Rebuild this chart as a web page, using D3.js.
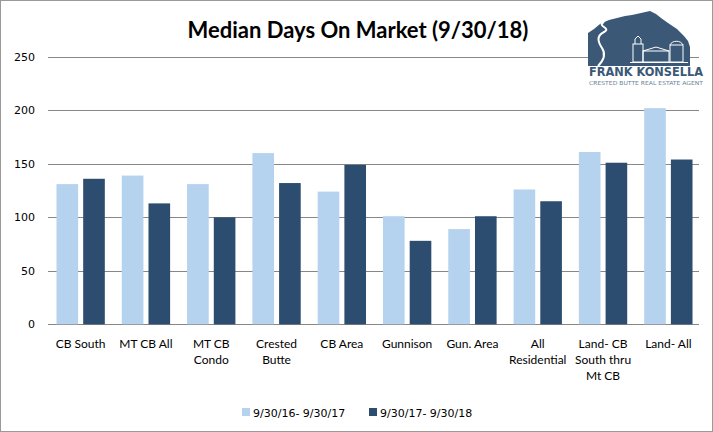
<!DOCTYPE html>
<html>
<head>
<meta charset="utf-8">
<script src="https://cdn.jsdelivr.net/npm/d3@7"></script>
<style>
  body { margin: 0; background: #fff; }
  svg { display: block; }
</style>
</head>
<body>
<div id="chart"></div>
<script>
// chart data
var categories = ["CB South", "MT CB All", "MT CB Condo", "Crested Butte", "CB Area",
                  "Gunnison", "Gun. Area", "All Residential", "Land- CB South thru Mt CB", "Land- All"]
var tickLabels = [["CB South"], ["MT CB All"], ["MT CB", "Condo"], ["Crested", "Butte"], ["CB Area"],
                  ["Gunnison"], ["Gun. Area"], ["All", "Residential"], ["Land- CB", "South thru", "Mt CB"], ["Land- All"]]
var series = ["9/30/16- 9/30/17", "9/30/17- 9/30/18"]
var prevYear = [131, 139, 131, 160, 124, 101, 89, 126, 161, 202]
var thisYear = [136, 113, 100, 132, 149, 78, 101, 115, 151, 154]
var yTicks = [0, 50, 100, 150, 200, 250]

var width = 713,
    height = 432

var svg = d3.select("#chart")
  .append("svg")
    .attr("width", width)
    .attr("height", height)

// outer frame
svg.append("rect")
  .attr("x", 0.5).attr("y", 0.5)
  .attr("width", width - 1).attr("height", height - 1)
  .attr("fill", "#fff")
  .attr("stroke", "#9a9a9a")

var color = d3.scaleOrdinal().domain(series).range(["#b5d2ee", "#2c4d70"])

var x0 = d3.scaleBand()
  .domain(categories)
  .range([48, 701])
  .paddingInner(0.26)
  .paddingOuter(0.13)

var x1 = d3.scaleBand()
  .domain(series)
  .range([0, x0.bandwidth()])
  .paddingInner(0.19)

var y = d3.scaleLinear()
  .domain([0, 250])
  .range([324.3, 56.8])

// gridlines
svg.append("g")
  .selectAll("line")
  .data(yTicks)
  .enter().append("line")
    .attr("x1", 48).attr("x2", 699)
    .attr("y1", function(d) { return Math.round(y(d)) + 0.5 })
    .attr("y2", function(d) { return Math.round(y(d)) + 0.5 })
    .attr("stroke", "#878787")
    .attr("stroke-width", 1.2)

// y axis labels
svg.append("g")
  .selectAll("text")
  .data(yTicks)
  .enter().append("text")
    .attr("x", 35)
    .attr("y", function(d) { return y(d) })
    .attr("dy", "0.35em")
    .attr("text-anchor", "end")
    .style("font-family", "DejaVu Sans, Verdana, sans-serif")
    .style("font-size", "11px")
    .attr("fill", "#000")
    .text(function(d) { return d })

// bars
var rows = categories.map(function(c, i) {
  return { cat: c, values: [
    { key: series[0], value: prevYear[i] },
    { key: series[1], value: thisYear[i] }
  ] }
})

svg.append("g")
  .selectAll("g")
  .data(rows)
  .enter().append("g")
    .attr("transform", function(d) { return "translate(" + x0(d.cat) + ",0)" })
  .selectAll("rect")
  .data(function(d) { return d.values })
  .enter().append("rect")
    .attr("x", function(d) { return x1(d.key) })
    .attr("y", function(d) { return y(d.value) })
    .attr("width", x1.bandwidth())
    .attr("height", function(d) { return y(0) - y(d.value) })
    .attr("fill", function(d) { return color(d.key) })

// category labels
var lab = svg.append("g")
  .selectAll("text")
  .data(categories)
  .enter().append("text")
    .attr("x", function(d) { return x0(d) + x0.bandwidth() / 2 })
    .attr("y", 348)
    .attr("text-anchor", "middle")
    .style("font-family", "Lato, sans-serif")
    .style("font-size", "12px")
    .attr("fill", "#000")

lab.each(function(d, i) {
  var t = d3.select(this)
  tickLabels[i].forEach(function(line, j) {
    t.append("tspan")
      .attr("x", x0(d) + x0.bandwidth() / 2)
      .attr("dy", j == 0 ? 0 : 16)
      .text(line)
  })
})

// title
svg.append("text")
  .attr("x", 358)
  .attr("y", 38)
  .attr("text-anchor", "middle")
  .style("font-family", "Lato, sans-serif")
  .style("font-weight", "bold")
  .style("font-size", "22px")
  .attr("fill", "#000")
  .text("Median Days On Market (9/30/18)")

// legend
var legend = svg.append("g")
var legX = [242, 369]
series.forEach(function(s, i) {
  legend.append("rect")
    .attr("x", legX[i]).attr("y", 408)
    .attr("width", 8).attr("height", 8)
    .attr("fill", color(s))
  legend.append("text")
    .attr("x", legX[i] + 11).attr("y", 416.5)
    .style("font-family", "DejaVu Sans, Verdana, sans-serif")
    .style("font-size", "11px")
    .attr("fill", "#000")
    .text(s)
})

// logo
var logo = svg.append("g")
var navy = "#3b5877"
logo.append("path")
  .attr("d", "M588,33 L594,29 L600,24 L609,20 L617,18 L625,16 L632,15 L641,13 L650,11 L656,14 L661,18 L668,23 L677,29 L684,36 L688,41 L690,47 L690,66 L588,66 Z")
  .attr("fill", navy)
// road
logo.append("path")
  .attr("d", "M604,22 C596,26 612,28 604,32 C596,36 598,42 602,48 C606,54 604,60 598,66")
  .attr("fill", "none")
  .attr("stroke", "#fff")
  .attr("stroke-width", 2)
// buildings
var bld = logo.append("g").attr("fill", "none").attr("stroke", "#fff").attr("stroke-width", 1)
bld.append("rect").attr("x", 633).attr("y", 44).attr("width", 10).attr("height", 18)
bld.append("path").attr("d", "M635,44 L635,39 L638,36 L641,39 L641,44")
bld.append("rect").attr("x", 643).attr("y", 51).attr("width", 26).attr("height", 11)
bld.append("path").attr("d", "M643,51 L656,47 L669,51")
bld.append("rect").attr("x", 670).attr("y", 45).attr("width", 13).attr("height", 17)
bld.append("path").attr("d", "M670,45 C672,40 681,40 683,45")
logo.append("line")
  .attr("x1", 630).attr("x2", 688).attr("y1", 62.5).attr("y2", 62.5)
  .attr("stroke", "#fff").attr("stroke-width", 1)
logo.append("text")
  .attr("x", 589).attr("y", 76)
  .attr("textLength", 114)
  .attr("lengthAdjust", "spacingAndGlyphs")
  .style("font-family", "DejaVu Sans Condensed, DejaVu Sans, sans-serif")
  .style("font-weight", "bold")
  .style("font-size", "12px")
  .attr("fill", navy)
  .text("FRANK KONSELLA")
logo.append("text")
  .attr("x", 589).attr("y", 85)
  .attr("textLength", 114)
  .attr("lengthAdjust", "spacingAndGlyphs")
  .style("font-family", "DejaVu Sans Condensed, DejaVu Sans, sans-serif")
  .style("font-size", "5.5px")
  .attr("fill", "#6a7f98")
  .text("CRESTED BUTTE REAL ESTATE AGENT")
</script>
</body>
</html>
